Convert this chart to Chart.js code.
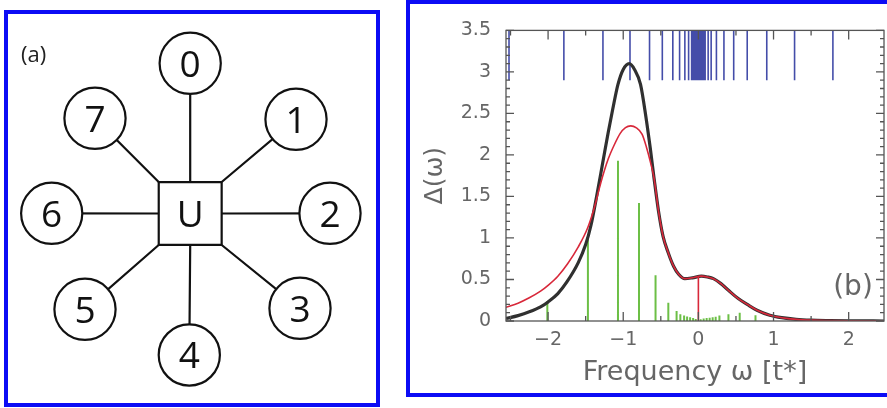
<!DOCTYPE html>
<html><head><meta charset="utf-8">
<script src="https://cdn.jsdelivr.net/npm/chart.js@4.4.1/dist/chart.umd.min.js"></script>
<style>
html,body{margin:0;padding:0;background:#fff;width:887px;height:408px;overflow:hidden;position:relative}
.panel{position:absolute;box-sizing:border-box;border:4px solid #0c0cf5;background:#fff}
#pa{left:4px;top:10px;width:376px;height:397px}
#pb{left:406px;top:0px;width:520px;height:397px}
canvas{position:absolute}
#ca{left:8px;top:14px}
#cb{left:410px;top:4px}
</style></head><body>
<div class="panel" id="pa"></div><div class="panel" id="pb"></div>
<canvas id="ca" width="368" height="389"></canvas>
<canvas id="cb" width="477" height="389"></canvas>
<script>
// ---------- Panel (a): star geometry ----------
const nodeLabels = ['0','1','2','3','4','5','6','7'];
const nodeX = [0, 105.8, 139.8, 109.8, -0.9, -105.2, -138.5, -95.2];
const nodeY = [150.2, 94.2, 0.2, -94.8, -141.5, -95.8, 0.2, 95.2];
const impurityLabel = 'U';
const panelALabel = '(a)';

// ---------- Panel (b): data ----------
const xTickValues = [-2, -1, 0, 1, 2];
const yTickValues = [0, 0.5, 1, 1.5, 2, 2.5, 3, 3.5];
const omegaBlack = [-2.56,-2.4,-2.25,-2.1,-2.0,-1.87,-1.75,-1.6,-1.5,-1.43,-1.35,-1.27,-1.2,-1.14,-1.07,-1.0,-0.92,-0.85,-0.77,-0.70,-0.64,-0.59,-0.53,-0.47,-0.40,-0.33,-0.26,-0.18,-0.08,0.04,0.12,0.20,0.30,0.40,0.53,0.65,0.78,0.95,1.11,1.30,1.50,1.75,2.00,2.47];
const deltaBlack = [0.03,0.065,0.11,0.17,0.23,0.33,0.47,0.70,0.92,1.15,1.52,1.92,2.27,2.55,2.85,3.03,3.10,3.03,2.85,2.47,2.08,1.72,1.32,1.02,0.82,0.66,0.56,0.51,0.52,0.54,0.53,0.51,0.45,0.37,0.27,0.20,0.13,0.07,0.04,0.02,0.01,0.005,0.002,0];
const omegaRed = [-2.56,-2.4,-2.25,-2.1,-2.0,-1.87,-1.74,-1.6,-1.47,-1.38,-1.30,-1.20,-1.12,-1.04,-0.97,-0.90,-0.83,-0.75,-0.69,-0.64,-0.59,-0.53,-0.47,-0.40,-0.33,-0.26,-0.18,-0.08,0.04,0.12,0.20,0.30,0.40,0.53,0.65,0.78,0.95,1.11,1.30,1.50,1.75,2.00,2.47];
const deltaRed = [0.165,0.215,0.28,0.36,0.43,0.54,0.69,0.89,1.13,1.38,1.66,1.95,2.12,2.26,2.33,2.35,2.33,2.25,2.09,1.92,1.72,1.32,1.02,0.82,0.66,0.56,0.51,0.52,0.54,0.53,0.51,0.45,0.37,0.27,0.20,0.13,0.07,0.04,0.02,0.01,0.005,0.002,0];
const poleOmega = [-2.01,-1.47,-1.07,-0.79,-0.57,-0.40,-0.29,-0.24,-0.19,-0.15,-0.11,-0.07,-0.035,0.03,0.07,0.11,0.15,0.19,0.23,0.28,0.40,0.55,0.76];
const poleWeight = [0.24,0.99,1.93,1.42,0.55,0.22,0.12,0.08,0.065,0.055,0.045,0.035,0.025,0.02,0.03,0.035,0.04,0.045,0.05,0.065,0.08,0.10,0.07];
const levelOmega = [-2.52,-1.79,-1.27,-0.91,-0.65,-0.48,-0.34,-0.25,-0.18,-0.13,-0.09,-0.075,-0.06,-0.048,-0.036,-0.025,-0.015,-0.005,0.005,0.015,0.025,0.036,0.048,0.06,0.075,0.09,0.13,0.17,0.24,0.34,0.47,0.65,0.91,1.28,1.79,2.52];
const levelFrom = 2.9, levelTo = 3.5;
const qpOmega = [0], qpHeight = [0.53];
const xTitle = 'Frequency \u03C9 [t*]';
const yTitle = '\u0394(\u03C9)';
const panelBLabel = '(b)';

// ---------- Panel (a) chart ----------
const half = 31.5;
const spokeData = [];
nodeX.forEach((nx, i) => {
  const ny = nodeY[i];
  const sx = Math.abs(nx) > 20 ? Math.sign(nx) * half : 0;
  const sy = Math.abs(ny) > 20 ? Math.sign(ny) * half : 0;
  spokeData.push({x: sx, y: sy}, {x: nx, y: ny}, {x: nx, y: null});
});
const labelsA = {
  id: 'labelsA',
  afterDatasetsDraw(chart) {
    const {ctx, scales: {x, y}} = chart;
    ctx.save();
    ctx.fillStyle = '#111';
    ctx.textAlign = 'center';
    ctx.textBaseline = 'alphabetic';
    const fs = 37;
    ctx.font = fs + 'px "Open Sans"';
    nodeLabels.forEach((t, i) => {
      ctx.fillText(t, x.getPixelForValue(nodeX[i]), y.getPixelForValue(nodeY[i]) + fs * 0.714 / 2);
    });
    ctx.fillText(impurityLabel, x.getPixelForValue(0), y.getPixelForValue(0) + fs * 0.714 / 2);
    ctx.font = '22px "Open Sans"';
    ctx.fillStyle = '#222';
    ctx.textAlign = 'left';
    ctx.textBaseline = 'middle';
    ctx.fillText(panelALabel, 13, 42);
    ctx.restore();
  }
};
new Chart(document.getElementById('ca'), {
  type: 'scatter',
  data: { datasets: [
    { data: nodeX.map((v, i) => ({x: v, y: nodeY[i]})), pointRadius: 30.6, pointHoverRadius: 30.6,
      pointBackgroundColor: '#fff', pointBorderColor: '#111', pointBorderWidth: 2.2, showLine: false, order: 0 },
    { data: [{x: 0, y: 0}], pointStyle: 'rect', pointRadius: 44.5, pointHoverRadius: 44.5,
      pointBackgroundColor: '#fff', pointBorderColor: '#111', pointBorderWidth: 2.2, showLine: false, order: 1 },
    { data: spokeData, showLine: true, spanGaps: false, borderColor: '#111', borderWidth: 2.2, pointRadius: 0, order: 2 }
  ]},
  options: {
    responsive: false, animation: false, events: [],
    layout: { padding: 0, autoPadding: false },
    plugins: { legend: {display: false}, tooltip: {enabled: false} },
    scales: {
      x: { type: 'linear', min: -182.2, max: 185.8, display: false },
      y: { type: 'linear', min: -189.5, max: 199.5, display: false }
    }
  },
  plugins: [labelsA]
});

// ---------- Panel (b) chart ----------
const xy = (xs, ys) => xs.map((x, i) => ({x, y: ys[i]}));
const sticks = (xs, lo, hi) => xs.flatMap((x, i) => [
  {x, y: Array.isArray(lo) ? lo[i] : lo},
  {x, y: Array.isArray(hi) ? hi[i] : hi},
  {x, y: null}]);
const fmt = v => (v < 0 ? '\u2212' + Math.abs(v) : String(v));
const frameB = {
  id: 'frameB',
  afterDatasetsDraw(chart) {
    const {ctx, chartArea: ca, scales: {x, y}} = chart;
    ctx.save();
    ctx.strokeStyle = '#555';
    ctx.lineWidth = 1.3;
    ctx.beginPath();
    for (let k = 0; k <= 35; k++) {
      const py = y.getPixelForValue(k / 10);
      const len = k % 5 === 0 ? 8 : 4;
      ctx.moveTo(ca.left, py); ctx.lineTo(ca.left + len, py);
      ctx.moveTo(ca.right, py); ctx.lineTo(ca.right - len, py);
    }
    for (let k = -6; k <= 6; k++) {
      const px = x.getPixelForValue(k / 2);
      if (px < ca.left || px > ca.right) continue;
      const len = k % 2 === 0 ? 9 : 5;
      ctx.moveTo(px, ca.bottom); ctx.lineTo(px, ca.bottom - len);
      ctx.moveTo(px, ca.top); ctx.lineTo(px, ca.top + len);
    }
    ctx.stroke();
    ctx.strokeRect(ca.left, ca.top, ca.right - ca.left, ca.bottom - ca.top);
    ctx.font = '28px "DejaVu Sans"';
    ctx.fillStyle = '#666';
    ctx.textAlign = 'center';
    ctx.textBaseline = 'middle';
    ctx.fillText(panelBLabel, ca.right - 31, ca.bottom - 33);
    ctx.restore();
  }
};
const tickFont = {family: 'DejaVu Sans', size: 19};
new Chart(document.getElementById('cb'), {
  type: 'line',
  data: { datasets: [
    { data: sticks(qpOmega, 0, qpHeight), borderColor: '#d8283a', borderWidth: 1.6, pointRadius: 0, spanGaps: false, order: 0 },
    { data: xy(omegaRed, deltaRed), borderColor: '#d8283a', borderWidth: 1.6, pointRadius: 0, cubicInterpolationMode: 'monotone', order: 1 },
    { data: xy(omegaBlack, deltaBlack), borderColor: '#303030', borderWidth: 3.2, pointRadius: 0, cubicInterpolationMode: 'monotone', order: 2 },
    { data: sticks(poleOmega, 0, poleWeight), borderColor: '#6cbf46', borderWidth: 2, pointRadius: 0, spanGaps: false, order: 3 },
    { data: sticks(levelOmega, levelFrom, levelTo), borderColor: 'rgba(48,58,160,0.9)', borderWidth: 1.6, pointRadius: 0, spanGaps: false, order: 4 }
  ]},
  options: {
    responsive: false, animation: false, events: [],
    layout: { padding: {top: 13, right: 3, left: 0, bottom: 0}, autoPadding: false },
    plugins: { legend: {display: false}, tooltip: {enabled: false} },
    scales: {
      x: {
        type: 'linear', min: -2.56, max: 2.47,
        grid: {display: false, drawTicks: false}, border: {display: false},
        afterBuildTicks: s => { s.ticks = xTickValues.map(v => ({value: v})); },
        afterFit: s => { s.height = 72; },
        ticks: { font: tickFont, color: '#666', padding: 8, callback: v => fmt(v), maxRotation: 0, autoSkip: false },
        title: { display: true, text: xTitle, color: '#666', font: {family: 'DejaVu Sans', size: 27}, padding: {top: 0, bottom: 4} }
      },
      y: {
        type: 'linear', min: 0, max: 3.5,
        grid: {display: false, drawTicks: false}, border: {display: false},
        afterBuildTicks: s => { s.ticks = yTickValues.map(v => ({value: v})); },
        afterFit: s => { s.width = 96; },
        ticks: { font: tickFont, color: '#666', padding: 15, callback: v => fmt(v), autoSkip: false },
        title: { display: true, text: yTitle, color: '#666', font: {family: 'DejaVu Sans', size: 25}, padding: {top: 10, bottom: 0} }
      }
    }
  },
  plugins: [frameB]
});
</script>
</body></html>
